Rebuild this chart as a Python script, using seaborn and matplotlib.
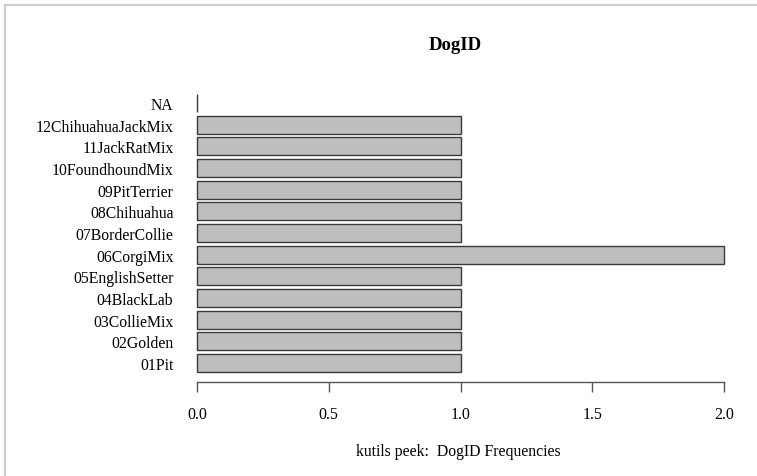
import matplotlib
matplotlib.use("Agg")
import matplotlib.pyplot as plt
from matplotlib.lines import Line2D
import seaborn as sns
import pandas as pd

# DogID frequencies, listed top to bottom as in the chart
dog_ids = ["NA", "12ChihuahuaJackMix", "11JackRatMix", "10FoundhoundMix",
           "09PitTerrier", "08Chihuahua", "07BorderCollie", "06CorgiMix",
           "05EnglishSetter", "04BlackLab", "03CollieMix", "02Golden", "01Pit"]
counts = [0, 1, 1, 1, 1, 1, 1, 2, 1, 1, 1, 1, 1]
x_ticks = [0.0, 0.5, 1.0, 1.5, 2.0]
x_tick_labels = ["0.0", "0.5", "1.0", "1.5", "2.0"]

sns.set_style("white", {"text.color": "black", "xtick.color": "black",
                        "ytick.color": "black", "axes.labelcolor": "black"})
plt.rcParams['font.family'] = ['Liberation Serif', 'DejaVu Serif']

W, H = 757, 477
fig = plt.figure(figsize=(W / 100, H / 100), dpi=100)
# axes placed in pixel terms: x 0..2 -> 197..724, bottom 383, top 91
ax = fig.add_axes([197 / W, (H - 383) / H, (724 - 197) / W, (383 - 91) / H])

df = pd.DataFrame({"DogID": dog_ids, "Freq": counts})
sns.barplot(data=df, x="Freq", y="DogID", order=dog_ids, orient="h",
            color="#BEBEBE", saturation=1, edgecolor="#3a3a3a",
            linewidth=1.0, width=0.83, ax=ax)
# keep the right edge of the longest bar visible
for p in ax.patches:
    p.set_clip_on(False)

ax.set_xlim(0, 2)
ax.set_ylim(12 + 0.877, -0.6)

for side in ["top", "right", "left"]:
    ax.spines[side].set_visible(False)
ax.spines["bottom"].set_color("#555555")
ax.spines["bottom"].set_linewidth(1.0)

ax.set_xticks(x_ticks)
ax.set_xticklabels(x_tick_labels, fontsize=11.5)
ax.tick_params(axis="x", direction="out", length=7.2, width=1.0,
               color="#555555", labelcolor="black", pad=10, bottom=True)
ax.tick_params(axis="y", length=0, pad=17, labelsize=11.3, labelcolor="black")

ax.set_ylabel("")
ax.set_xlabel("kutils peek:  DogID Frequencies", fontsize=11.3, color="black")
ax.xaxis.set_label_coords(0.495, -(452 - 383) / (383 - 91))
ax.xaxis.label.set_va("center")

ax.set_title("DogID", fontsize=13.5, fontweight="bold", pad=29.5, x=0.49,
             color="black")

# thin grey frame from the screenshot crop
fig.add_artist(Line2D([4.5 / W, 4.5 / W], [0, 1 - 5.5 / H],
                      color="#cccccc", lw=1.5, transform=fig.transFigure))
fig.add_artist(Line2D([4.5 / W, 1], [1 - 5.5 / H, 1 - 5.5 / H],
                      color="#cccccc", lw=1.5, transform=fig.transFigure))

fig.savefig("out.png", dpi=100, facecolor="white")
